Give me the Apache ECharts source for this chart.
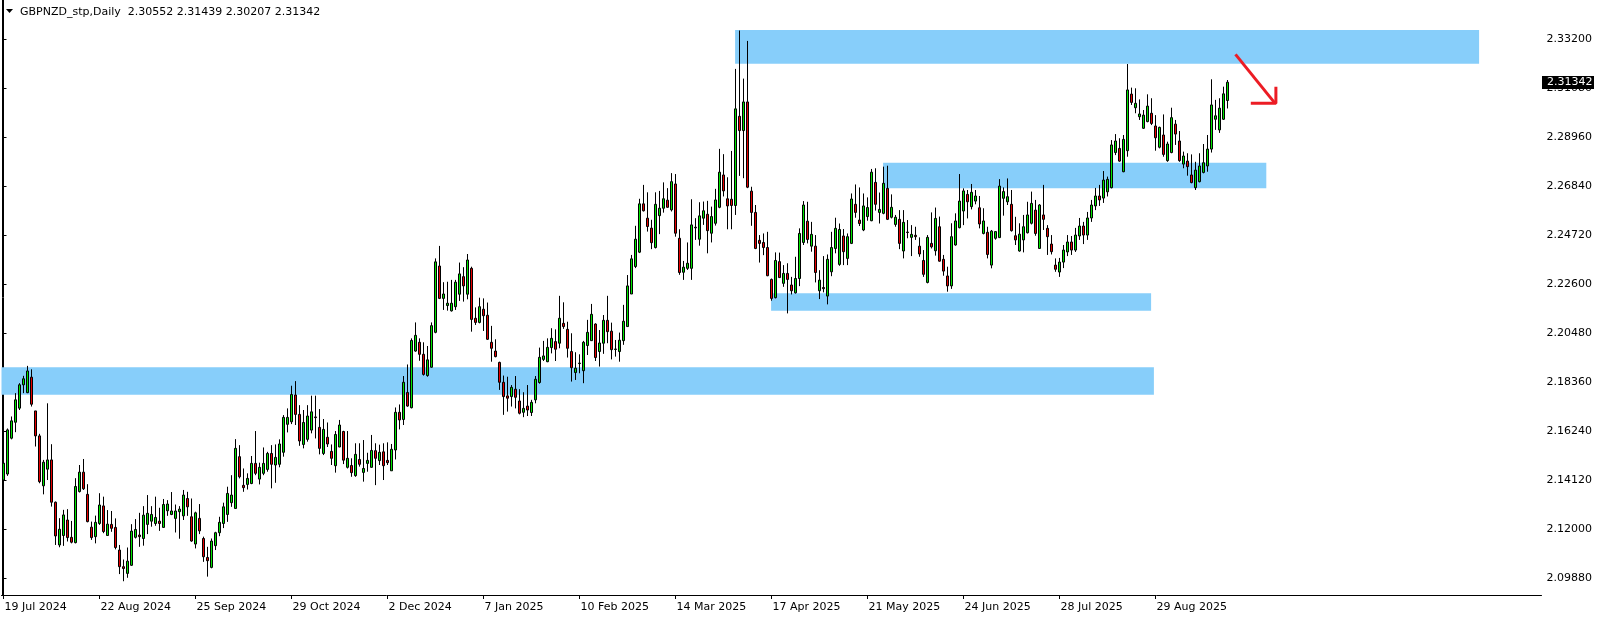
<!DOCTYPE html>
<html><head><meta charset="utf-8">
<script src="https://cdn.jsdelivr.net/npm/echarts@6/dist/echarts.min.js"></script>
<style>html,body{margin:0;padding:0;background:#fff;}#c{width:1604px;height:621px;}</style>
</head><body><div id="c"></div><script>
const symbolName = 'GBPNZD_stp,Daily';
const startDate = [2024, 6, 19];
const holidays = ['2024-12-25', '2025-01-01'];
const priceTicks = [2.0988, 2.12, 2.1412, 2.1624, 2.1836, 2.2048, 2.226, 2.2472, 2.2684, 2.2896, 2.3108, 2.332];

const open = [2.1413,2.1439,2.1594,2.1663,2.1724,2.1825,2.1791,2.1858,2.1712,2.1604,2.1388,2.1460,2.1500,2.1317,2.1132,2.1173,2.1240,2.1165,2.1142,2.1363,2.1447,2.1351,2.1209,2.1168,2.1225,2.1301,2.1173,2.1221,2.1208,2.1110,2.1038,2.1009,2.1044,2.1165,2.1175,2.1160,2.1221,2.1235,2.1225,2.1235,2.1208,2.1280,2.1264,2.1247,2.1276,2.1258,2.1333,2.1254,2.1136,2.1247,2.1160,2.1078,2.1035,2.1129,2.1185,2.1225,2.1264,2.1315,2.1290,2.1514,2.1390,2.1394,2.1398,2.1485,2.1417,2.1442,2.1459,2.1528,2.1478,2.1481,2.1533,2.1654,2.1665,2.1781,2.1697,2.1567,2.1589,2.1629,2.1686,2.1641,2.1528,2.1598,2.1537,2.1475,2.1556,2.1623,2.1468,2.1476,2.1432,2.1502,2.1446,2.1485,2.1468,2.1540,2.1497,2.1535,2.1498,2.1453,2.1543,2.1706,2.1675,2.1792,2.1726,2.1971,2.2009,2.1957,2.1865,2.1901,2.2052,2.2339,2.2199,2.2168,2.2145,2.2163,2.2217,2.2293,2.2217,2.2329,2.2113,2.2095,2.2152,2.2126,2.2009,2.1971,2.1922,2.1836,2.1777,2.1774,2.1806,2.1755,2.1706,2.1733,2.1705,2.1760,2.1835,2.1935,2.1925,2.1986,2.2012,2.2005,2.2091,2.2065,2.1969,2.1878,2.1917,2.1886,2.1995,2.2016,2.2088,2.1969,2.2005,2.2104,2.2057,2.1978,2.1969,2.2016,2.2077,2.2218,2.2337,2.2399,2.2608,2.2546,2.2503,2.2419,2.2557,2.2589,2.2624,2.2582,2.2694,2.2459,2.2312,2.2329,2.2329,2.2507,2.2455,2.2546,2.2563,2.2481,2.2524,2.2593,2.2733,2.2630,2.2628,2.2601,2.2987,2.2925,2.3049,2.2663,2.2571,2.2450,2.2441,2.2419,2.2281,2.2202,2.2358,2.2264,2.2307,2.2257,2.2223,2.2285,2.2441,2.2533,2.2425,2.2425,2.2232,2.2246,2.2209,2.2314,2.2415,2.2346,2.2469,2.2372,2.2437,2.2606,2.2538,2.2495,2.2553,2.2535,2.2701,2.2571,2.2567,2.2675,2.2550,2.2519,2.2541,2.2404,2.2486,2.2463,2.2472,2.2425,2.2363,2.2268,2.2437,2.2405,2.2509,2.2368,2.2296,2.2253,2.2430,2.2505,2.2577,2.2649,2.2596,2.2620,2.2591,2.2480,2.2485,2.2343,2.2459,2.2462,2.2632,2.2617,2.2606,2.2470,2.2404,2.2452,2.2483,2.2524,2.2581,2.2415,2.2560,2.2502,2.2434,2.2343,2.2313,2.2356,2.2400,2.2443,2.2408,2.2469,2.2512,2.2473,2.2547,2.2599,2.2642,2.2633,2.2660,2.2678,2.2830,2.2848,2.2747,2.2838,2.3083,2.3024,2.2985,2.2935,2.2964,2.3000,2.2945,2.2853,2.2906,2.2795,2.2830,2.2953,2.2880,2.2780,2.2793,2.2733,2.2678,2.2704,2.2744,2.2772,2.2845,2.2974,2.2928,2.2974,2.30552];
const close = [2.1486,2.1630,2.1669,2.1760,2.1825,2.1851,2.1885,2.1741,2.1604,2.1406,2.1490,2.1500,2.1317,2.1171,2.1200,2.1262,2.1164,2.1144,2.1385,2.1447,2.1375,2.1233,2.1164,2.1230,2.1305,2.1190,2.1222,2.1204,2.1121,2.1038,2.1030,2.1062,2.1192,2.1199,2.1168,2.1261,2.1269,2.1264,2.1251,2.1225,2.1307,2.1309,2.1279,2.1279,2.1287,2.1348,2.1297,2.1149,2.1271,2.1193,2.1081,2.1064,2.1149,2.1185,2.1230,2.1297,2.1355,2.1348,2.1550,2.1427,2.1380,2.1420,2.1485,2.1442,2.1468,2.1485,2.1528,2.1481,2.1511,2.1569,2.1684,2.1684,2.1783,2.1697,2.1582,2.1662,2.1690,2.1708,2.1683,2.1550,2.1632,2.1569,2.1507,2.1610,2.1651,2.1499,2.1507,2.1445,2.1524,2.1481,2.1463,2.1498,2.1541,2.1507,2.1533,2.1475,2.1488,2.1546,2.1706,2.1673,2.1836,2.1733,2.2017,2.2039,2.1957,2.1870,2.1933,2.2081,2.2357,2.2199,2.2218,2.2178,2.2178,2.2269,2.2305,2.2253,2.2365,2.2108,2.2095,2.2163,2.2124,2.2022,2.1983,2.1947,2.1836,2.1774,2.1767,2.1814,2.1771,2.1702,2.1723,2.1716,2.1749,2.1849,2.1944,2.1950,2.1987,2.2026,2.1979,2.2113,2.2077,2.1983,2.1899,2.1897,2.1919,2.2009,2.2052,2.2130,2.1943,2.2006,2.2104,2.2055,2.1977,2.1980,2.2018,2.2100,2.2253,2.2370,2.2455,2.2608,2.2578,2.2510,2.2440,2.2606,2.2589,2.2630,2.2593,2.2704,2.2481,2.2311,2.2334,2.2351,2.2517,2.2504,2.2556,2.2578,2.2492,2.2553,2.2625,2.2745,2.2664,2.2599,2.2601,2.3019,2.2925,2.3049,2.2680,2.2571,2.2415,2.2437,2.2419,2.2297,2.2199,2.2363,2.2289,2.2307,2.2281,2.2232,2.2285,2.2480,2.2603,2.2454,2.2476,2.2311,2.2278,2.2241,2.2368,2.2419,2.2502,2.2497,2.2401,2.2466,2.2629,2.2571,2.2523,2.2599,2.2592,2.2745,2.2606,2.2584,2.2697,2.2541,2.2593,2.2550,2.2437,2.2528,2.2484,2.2476,2.2466,2.2391,2.2303,2.2463,2.2422,2.2545,2.2360,2.2317,2.2253,2.2466,2.2534,2.2620,2.2664,2.2617,2.2658,2.2642,2.2521,2.2534,2.2389,2.2490,2.2488,2.2685,2.2661,2.2639,2.2492,2.2452,2.2477,2.2509,2.2560,2.2610,2.2480,2.2603,2.2541,2.2466,2.2401,2.2325,2.2356,2.2408,2.2443,2.2408,2.2473,2.2512,2.2473,2.2547,2.2603,2.2642,2.2625,2.2711,2.2714,2.2863,2.2880,2.2793,2.2887,2.3101,2.3047,2.3043,2.2997,2.2992,2.3031,2.2956,2.2894,2.2939,2.2822,2.2867,2.2981,2.2910,2.2795,2.2815,2.2769,2.2700,2.2754,2.2772,2.2786,2.2845,2.3036,2.2989,2.3022,2.3084,2.31342];
const low = [2.1370,2.1431,2.1589,2.1620,2.1716,2.1789,2.1789,2.1731,2.1558,2.1399,2.1351,2.1413,2.1298,2.1132,2.1122,2.1128,2.1147,2.1139,2.1139,2.1359,2.1370,2.1230,2.1154,2.1139,2.1219,2.1183,2.1173,2.1189,2.1113,2.1006,2.0975,2.0990,2.1041,2.1160,2.1124,2.1129,2.1179,2.1211,2.1215,2.1193,2.1206,2.1258,2.1261,2.1186,2.1159,2.1240,2.1258,2.1146,2.1117,2.1179,2.1059,2.0995,2.1031,2.1110,2.1170,2.1205,2.1232,2.1297,2.1290,2.1420,2.1362,2.1372,2.1395,2.1434,2.1394,2.1434,2.1449,2.1377,2.1401,2.1468,2.1514,2.1619,2.1655,2.1651,2.1561,2.1550,2.1579,2.1615,2.1593,2.1524,2.1521,2.1556,2.1478,2.1445,2.1555,2.1482,2.1463,2.1427,2.1427,2.1471,2.1406,2.1449,2.1466,2.1391,2.1478,2.1413,2.1478,2.1453,2.1502,2.1632,2.1651,2.1730,2.1723,2.1968,2.1929,2.1865,2.1860,2.1899,2.2048,2.2196,2.2149,2.2146,2.2142,2.2149,2.2188,2.2185,2.2195,2.2055,2.2084,2.2091,2.2058,2.2019,2.1925,2.1944,2.1803,2.1695,2.1709,2.1731,2.1723,2.1697,2.1685,2.1690,2.1690,2.1745,2.1830,2.1928,2.1923,2.1961,2.1928,2.1983,2.2067,2.1943,2.1839,2.1846,2.1875,2.1832,2.1954,2.2015,2.1928,2.1904,2.1959,2.2005,2.1935,2.1947,2.1925,2.1998,2.2077,2.2218,2.2330,2.2395,2.2575,2.2488,2.2412,2.2415,2.2477,2.2570,2.2592,2.2575,2.2466,2.2301,2.2279,2.2322,2.2279,2.2452,2.2427,2.2517,2.2394,2.2441,2.2514,2.2589,2.2640,2.2498,2.2498,2.2560,2.2729,2.2719,2.2676,2.2513,2.2412,2.2354,2.2386,2.2295,2.2189,2.2199,2.2287,2.2249,2.2134,2.2216,2.2220,2.2252,2.2430,2.2437,2.2401,2.2268,2.2196,2.2225,2.2173,2.2295,2.2394,2.2340,2.2343,2.2343,2.2434,2.2548,2.2512,2.2490,2.2535,2.2533,2.2579,2.2523,2.2563,2.2538,2.2545,2.2509,2.2412,2.2372,2.2459,2.2382,2.2452,2.2379,2.2292,2.2264,2.2415,2.2384,2.2358,2.2297,2.2228,2.2240,2.2427,2.2502,2.2516,2.2545,2.2584,2.2606,2.2502,2.2476,2.2372,2.2329,2.2453,2.2460,2.2557,2.2603,2.2488,2.2430,2.2401,2.2398,2.2480,2.2519,2.2470,2.2413,2.2495,2.2387,2.2389,2.2314,2.2292,2.2330,2.2382,2.2387,2.2400,2.2452,2.2434,2.2452,2.2530,2.2581,2.2599,2.2612,2.2640,2.2675,2.2819,2.2790,2.2745,2.2812,2.3036,2.3000,2.2971,2.2932,2.2961,2.2949,2.2838,2.2848,2.2812,2.2790,2.2827,2.2863,2.2790,2.2762,2.2730,2.2697,2.2668,2.2701,2.2740,2.2747,2.2830,2.2928,2.2915,2.2971,2.30207];
const high = [2.1493,2.1636,2.1688,2.1789,2.1832,2.1864,2.1907,2.1892,2.1712,2.1613,2.1500,2.1745,2.1568,2.1320,2.1248,2.1284,2.1287,2.1236,2.1421,2.1478,2.1504,2.1395,2.1233,2.1259,2.1356,2.1341,2.1283,2.1279,2.1247,2.1132,2.1069,2.1121,2.1222,2.1244,2.1271,2.1300,2.1348,2.1300,2.1341,2.1293,2.1331,2.1326,2.1361,2.1307,2.1300,2.1370,2.1362,2.1333,2.1276,2.1309,2.1168,2.1124,2.1160,2.1189,2.1254,2.1315,2.1384,2.1434,2.1590,2.1564,2.1463,2.1442,2.1517,2.1625,2.1488,2.1554,2.1535,2.1564,2.1567,2.1589,2.1694,2.1723,2.1821,2.1841,2.1737,2.1716,2.1737,2.1778,2.1778,2.1720,2.1677,2.1662,2.1567,2.1625,2.1673,2.1626,2.1625,2.1507,2.1572,2.1572,2.1586,2.1531,2.1608,2.1572,2.1566,2.1572,2.1576,2.1569,2.1727,2.1740,2.1863,2.1913,2.2026,2.2095,2.2026,2.2009,2.1993,2.2095,2.2372,2.2426,2.2269,2.2271,2.2279,2.2279,2.2354,2.2334,2.2391,2.2336,2.2160,2.2202,2.2199,2.2181,2.2080,2.2022,2.1925,2.1865,2.1860,2.1824,2.1863,2.1806,2.1793,2.1824,2.1760,2.1863,2.1986,2.2015,2.2026,2.2070,2.2065,2.2210,2.2182,2.2098,2.2048,2.1966,2.1957,2.2015,2.2106,2.2175,2.2091,2.2062,2.2127,2.2210,2.2094,2.2019,2.2051,2.2171,2.2300,2.2387,2.2513,2.2630,2.2690,2.2658,2.2539,2.2658,2.2664,2.2701,2.2676,2.2741,2.2737,2.2498,2.2361,2.2441,2.2628,2.2546,2.2615,2.2618,2.2621,2.2596,2.2673,2.2846,2.2823,2.2723,2.2837,2.3192,2.3358,2.3150,2.3313,2.2682,2.2603,2.2473,2.2480,2.2487,2.2285,2.2398,2.2397,2.2343,2.2351,2.2292,2.2379,2.2502,2.2620,2.2617,2.2530,2.2473,2.2321,2.2382,2.2389,2.2487,2.2548,2.2523,2.2499,2.2480,2.2653,2.2692,2.2679,2.2653,2.2636,2.2759,2.2762,2.2657,2.2769,2.2773,2.2649,2.2560,2.2581,2.2581,2.2538,2.2516,2.2509,2.2463,2.2408,2.2473,2.2571,2.2592,2.2553,2.2387,2.2336,2.2524,2.2567,2.2737,2.2675,2.2668,2.2694,2.2668,2.2642,2.2589,2.2509,2.2495,2.2490,2.2715,2.2679,2.2718,2.2668,2.2552,2.2524,2.2560,2.2617,2.2661,2.2625,2.2607,2.2690,2.2516,2.2473,2.2372,2.2374,2.2430,2.2473,2.2469,2.2504,2.2547,2.2530,2.2573,2.2625,2.2677,2.2690,2.2750,2.2726,2.2884,2.2910,2.2892,2.2906,2.3213,2.3111,2.3108,2.3060,2.3014,2.3082,2.3065,2.2992,2.2942,2.2995,2.2877,2.3024,2.2971,2.2923,2.2834,2.2827,2.2822,2.2790,2.2827,2.2867,2.2906,2.3147,2.3058,2.3065,2.3115,2.31439];

// annotation zones (x in bar-index units, y in price)
const zones = [
  {x0: -0.5, x1: 287.6, top: 2.1901, bottom: 2.1782},
  {x0: 191.9, x1: 286.9, top: 2.2221, bottom: 2.2146},
  {x0: 219.9, x1: 315.7, top: 2.2786, bottom: 2.2675},
  {x0: 182.9, x1: 368.9, top: 2.3360, bottom: 2.3214}
];
const arrowShaft = [[308.0, 2.3255], [317.9, 2.3043]];
const arrowHead = [[312.2, 2.3043], [318.1, 2.3043], [318.1, 2.3108]];

const SLOTS = 385;
const Y_MAX = 2.34901, Y_MIN = 2.09155;
const months = ['Jan','Feb','Mar','Apr','May','Jun','Jul','Aug','Sep','Oct','Nov','Dec'];
const dates = [];
let d = new Date(Date.UTC(startDate[0], startDate[1], startDate[2]));
while (dates.length < close.length) {
  const dow = d.getUTCDay();
  const iso = d.toISOString().slice(0, 10);
  if (dow !== 0 && dow !== 6 && holidays.indexOf(iso) < 0) {
    dates.push(d.getUTCDate() + ' ' + months[d.getUTCMonth()] + ' ' + d.getUTCFullYear());
  }
  d = new Date(d.getTime() + 86400000);
}
const categories = dates.slice();
for (let i = dates.length; i < SLOTS; i++) categories.push('~' + i);
const candles = open.map((o, i) => [o, close[i], low[i], high[i]]);
const showIdx = (i) => i % 24 === 0 && i < dates.length;
const FONT = 'DejaVu Sans';

const chart = echarts.init(document.getElementById('c'), null, {renderer: 'canvas'});
chart.setOption({
  animation: false,
  backgroundColor: '#ffffff',
  grid: {left: 1.5, top: 0, width: SLOTS * 4, height: 595, containLabel: false},
  xAxis: [
    {
      type: 'category', data: categories, boundaryGap: true,
      axisLine: {show: true, lineStyle: {color: '#000', width: 1}},
      axisTick: {show: true, interval: (i) => showIdx(i), alignWithLabel: true, length: 4, lineStyle: {color: '#000'}},
      axisLabel: {interval: (i) => showIdx(i), align: 'left', color: '#000', fontFamily: FONT, fontSize: 11, margin: 7, padding: [0, 0, 0, 1]},
      splitLine: {show: false}
    },
    {type: 'value', min: -0.5, max: SLOTS - 0.5, show: false}
  ],
  yAxis: [
    {
      type: 'value', position: 'right', offset: -1, min: Y_MIN, max: Y_MAX, scale: true,
      axisLine: {show: true, lineStyle: {color: '#000', width: 1}},
      axisTick: {show: true, length: 3, customValues: priceTicks, lineStyle: {color: '#000'}},
      axisLabel: {customValues: priceTicks, formatter: (v) => v.toFixed(5), color: '#000', fontFamily: FONT, fontSize: 11, margin: 6},
      splitLine: {show: false}
    },
    {
      type: 'value', position: 'left', offset: -1, min: Y_MIN, max: Y_MAX,
      axisLine: {show: true, lineStyle: {color: '#000', width: 1}},
      axisTick: {show: false}, axisLabel: {show: false}, splitLine: {show: false}
    }
  ],
  series: [
    {
      type: 'line', xAxisIndex: 1, yAxisIndex: 0, data: [[0, 2.2]], symbol: 'none', silent: true, z: 1,
      lineStyle: {opacity: 0},
      markArea: {
        silent: true, itemStyle: {color: '#87cefa', opacity: 1},
        data: zones.map(z => [{coord: [z.x0, z.top]}, {coord: [z.x1, z.bottom]}])
      }
    },
    {
      type: 'candlestick', xAxisIndex: 0, yAxisIndex: 0, data: candles, barWidth: 3, z: 3,
      itemStyle: {color: '#00e600', color0: '#e60000', borderColor: '#000', borderColor0: '#000', borderColorDoji: '#000', borderWidth: 1},
      emphasis: {disabled: true}, silent: true
    },
    {
      type: 'line', xAxisIndex: 1, yAxisIndex: 0, data: arrowShaft, symbol: 'none', silent: true, z: 4,
      lineStyle: {color: '#ec1c24', width: 3}
    },
    {
      type: 'line', xAxisIndex: 1, yAxisIndex: 0, data: arrowHead, symbol: 'none', silent: true, z: 4,
      lineStyle: {color: '#ec1c24', width: 3, cap: 'square'}
    }
  ]
});

const last = close.length - 1;
const yTag = chart.convertToPixel({yAxisIndex: 0}, close[last]);
const header = symbolName + '  ' + open[last].toFixed(5) + ' ' + high[last].toFixed(5) + ' ' + low[last].toFixed(5) + ' ' + close[last].toFixed(5);
chart.setOption({
  graphic: [
    {type: 'polygon', shape: {points: [[6, 9], [13, 9], [9.5, 13]]}, style: {fill: '#000'}, z: 10},
    {type: 'text', x: 20, y: 12, style: {text: header, fill: '#000', font: '11px "DejaVu Sans"', textVerticalAlign: 'middle'}, z: 10},
    {type: 'rect', shape: {x: 1542, y: Math.round(yTag) - 6, width: 52, height: 13}, style: {fill: '#000'}, z: 10},
    {type: 'text', x: 1547, y: Math.round(yTag) + 0.5, style: {text: close[last].toFixed(5), fill: '#fff', font: '11px "DejaVu Sans"', textVerticalAlign: 'middle'}, z: 11}
  ]
});
</script></body></html>
